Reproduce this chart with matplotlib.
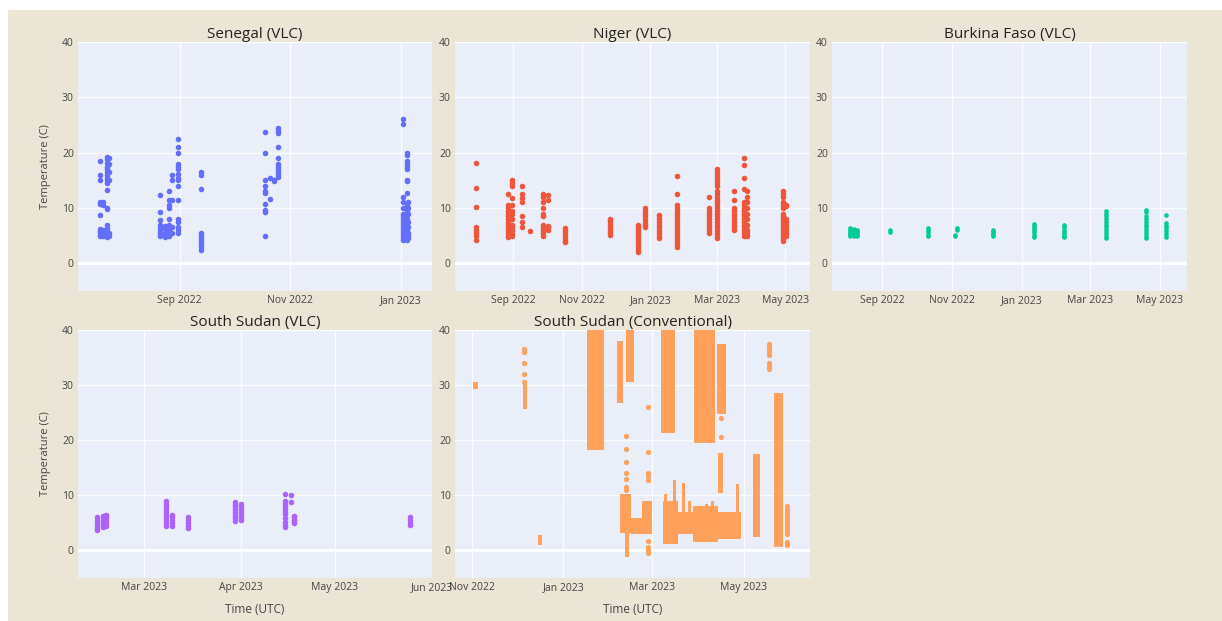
import matplotlib
matplotlib.use("Agg")
import matplotlib.pyplot as plt
import matplotlib.dates as mdates
from matplotlib.patches import Rectangle
import pandas as pd

# ---- data (date of a column of readings, temperatures in C) ----
senegal_days = ["2022-07-19", "2022-07-21", "2022-07-23", "2022-07-24", "2022-08-21",
                "2022-08-24", "2022-08-26", "2022-08-28", "2022-08-31", "2022-09-13",
                "2022-10-18", "2022-10-21", "2022-10-23", "2022-10-25", "2023-01-02",
                "2023-01-04", "2023-01-05"]
senegal_temps = [
    [18.5, 16, 15, 11, 10.8, 8.7, 6.2, 5.8, 5.5, 5.2, 5],
    [6, 5.5, 5, 11, 10.5],
    [19.2, 18.8, 18.2, 17.5, 17, 16.5, 16, 15.5, 15, 14.5, 13.2, 10, 9.8, 7, 6.3, 5.8, 5.3, 5, 4.8],
    [19, 18, 16.5, 15, 5.5, 5],
    [12.3, 9.2, 7.8, 7, 6.5, 6, 5.5, 5],
    [6.8, 6.2, 5.5, 5, 4.8],
    [13, 11.5, 10.5, 10, 8, 7, 6, 5.5, 5],
    [16, 15, 11.5, 6.5, 5.5],
    [22.5, 21, 20, 18, 17.5, 17, 16.2, 15.5, 15, 14, 11.5, 8, 7.5, 6.5, 6, 5.5],
    [16.5, 16, 13.5, 5.5, 5, 4.5, 4, 3.5, 3, 2.5],
    [23.7, 19.9, 15, 14, 13, 12.8, 10.8, 9.6, 9.2, 5],
    [15.4, 11.6],
    [15, 14.8],
    [24.4, 24, 23.5, 21, 19, 18, 17.5, 17, 16.5, 16, 15.6],
    [26, 25.2, 12, 11, 10, 9, 8.5, 8, 7.5, 7, 6.5, 6, 5.5, 5, 4.5, 4.2],
    [20, 19.5, 18.5, 18, 17.5, 17, 15, 14.8, 12.7, 10.5, 9.5, 8.8, 8, 7, 6.5, 6, 5.5, 5, 4.5, 4.2],
    [11, 10, 9, 7.5, 6.5, 5.5, 5, 4.5],
]

niger_days = ["2022-07-30", "2022-08-27", "2022-08-31", "2022-09-09", "2022-09-16",
              "2022-09-27", "2022-10-02", "2022-10-17", "2022-11-26", "2022-12-21",
              "2022-12-27", "2023-01-09", "2023-01-25", "2023-02-22", "2023-03-01",
              "2023-03-16", "2023-03-25", "2023-03-28", "2023-04-29", "2023-05-02"]
niger_temps = [
    [18.2, 13.6, 10.2, 6.5, 6, 5.5, 5, 4.3],
    [12.5, 10.5, 10, 9.5, 9, 8.5, 8, 7.5, 7, 6.5, 6, 5.5, 5, 4.8],
    [15, 14.5, 14, 11.8, 10.5, 9.5, 9, 8, 7, 6.5, 6, 5.5, 5],
    [14, 12.5, 11.8, 11, 8.5, 7.5, 6.5],
    [5.8],
    [12.5, 12, 11, 10, 9, 8.5, 7, 6.5, 6, 5.5, 5],
    [12.3, 11.5, 6.8, 6.5, 6],
    [6.3, 6, 5.5, 5, 4.5, 4, 3.8],
    [8, 7.8, 7.5, 7, 6.5, 6, 5.5, 5.2],
    [7, 6.5, 6, 5.5, 5, 4.5, 4, 3.5, 3, 2.5, 2],
    [10, 9.5, 9, 8.5, 8, 7.5, 7, 6.5],
    [8.8, 8.5, 8, 7.5, 7, 6.5, 6, 5.5, 5, 4.5],
    [15.8, 12.5, 10.5, 10, 9.5, 9, 8.5, 8, 7.5, 7, 6.5, 6, 5.5, 5, 4.5, 4, 3.5, 3],
    [12, 10, 9.5, 9, 8.5, 8, 7.5, 7, 6.5, 6, 5.5],
    [17, 16.5, 16, 15.5, 15, 14.5, 14, 13, 12.5, 12, 11.5, 11, 10.5, 10, 9.5, 9, 8.5,
     8, 7.5, 7, 6.5, 6, 5.5, 5, 4.5],
    [13, 11.5, 10, 9.5, 9, 8.5, 8, 7.5, 7, 6.5, 6],
    [19, 17.8, 15.5, 13.5, 11, 10.5, 10, 9.5, 9, 8.5, 8, 7.5, 7, 6.5, 6, 5.5, 5],
    [13, 12, 11, 10, 9, 8, 7, 6, 5.5, 5],
    [13, 12.5, 12, 11, 10.5, 10, 9, 8.5, 8, 7.5, 7, 6.5, 6, 5.5, 5, 4.5, 4],
    [10.5, 10.3, 8, 7.5, 7, 6.5, 6, 5.5, 5],
]

burkina_days = ["2022-08-04", "2022-08-07", "2022-08-10", "2022-09-08", "2022-10-11",
                "2022-11-03", "2022-11-05", "2022-12-07", "2023-01-11", "2023-02-07",
                "2023-03-15", "2023-04-19", "2023-05-07"]
burkina_temps = [
    [6.3, 6, 5.7, 5.4, 5.1, 4.9],
    [6.2, 5.9, 5.6, 5.3, 5],
    [6.1, 5.8, 5.5, 5.2, 4.9],
    [6, 5.7],
    [6.4, 6, 5.6, 5.2, 4.9],
    [5.2, 5],
    [6.4, 6.1],
    [6.1, 5.8, 5.5, 5.2, 4.9],
    [7.1, 6.8, 6.4, 6, 5.6, 5.2, 4.8],
    [6.9, 6.5, 6.1, 5.7, 5.3, 4.9, 4.7],
    [9.4, 9, 8.5, 8, 7.5, 7, 6.5, 6, 5.5, 5, 4.5],
    [9.7, 9.2, 8.5, 8, 7.5, 7, 6.5, 6, 5.5, 5, 4.6],
    [8.8, 7.2, 6.8, 6.3, 5.8, 5.3, 4.8],
]

ssudan_days = ["2023-02-14", "2023-02-16", "2023-02-17", "2023-03-08", "2023-03-10",
               "2023-03-15", "2023-03-30", "2023-04-01", "2023-04-15", "2023-04-17",
               "2023-04-18", "2023-05-25"]
ssudan_temps = [
    [6, 5.5, 5, 4.5, 4, 3.8],
    [6.2, 5.8, 5.4, 5, 4.6, 4.2],
    [6.5, 6.2, 5.8, 5.4, 5, 4.5],
    [9, 8.5, 8, 7.5, 7, 6.5, 6, 5.5, 5, 4.5],
    [6.5, 6, 5.5, 5, 4.5],
    [6, 5.5, 5, 4.5, 4],
    [8.7, 8.3, 7.8, 7.3, 6.8, 6.3, 5.8, 5.3],
    [8.5, 8, 7.5, 7, 6.5, 6, 5.5],
    [10.3, 9, 8.5, 8, 7.5, 7, 6.6, 5.8, 5.2, 4.6, 4.2],
    [10, 8.7],
    [6.2, 6, 5.6, 5.3, 5],
    [6, 5.5, 5, 4.6],
]

# South Sudan conventional: dense stretches of readings (start, end, low, high)
conv_start = ["2022-11-02", "2022-12-05", "2022-12-15", "2023-01-17", "2023-02-06",
              "2023-02-12", "2023-02-08", "2023-02-11", "2023-02-15", "2023-02-22",
              "2023-03-07", "2023-03-08", "2023-03-09", "2023-03-15", "2023-03-18",
              "2023-03-21", "2023-03-25", "2023-03-29", "2023-03-28", "2023-04-05",
              "2023-04-09", "2023-04-13", "2023-04-14", "2023-04-13", "2023-04-19",
              "2023-04-26", "2023-05-07", "2023-05-21"]
conv_end = ["2022-11-05", "2022-12-08", "2022-12-18", "2023-01-28", "2023-02-10",
            "2023-02-17", "2023-02-15", "2023-02-14", "2023-02-27", "2023-03-01",
            "2023-03-16", "2023-03-18", "2023-03-11", "2023-03-17", "2023-03-28",
            "2023-03-23", "2023-03-27", "2023-04-12", "2023-04-14", "2023-04-07",
            "2023-04-11", "2023-04-19", "2023-04-17", "2023-04-19", "2023-04-29",
            "2023-04-28", "2023-05-12", "2023-05-27"]
conv_low = [29.3, 25.6, 1.0, 18.2, 26.7, 30.5, 3.1, -1.2, 3.0, 3.0,
            21.3, 1.2, 1.2, 1.2, 3.0, 3.0, 3.0, 19.5, 1.5, 2.0,
            2.0, 24.7, 10.5, 2.0, 2.0, 2.0, 2.4, 0.6]
conv_high = [30.6, 30.2, 2.8, 42, 38, 42, 10.3, 3.1, 5.8, 9.0,
             42, 9.0, 10.2, 12.8, 7.0, 12.3, 9.0, 42, 8.0, 8.5,
             9.0, 37.5, 17.7, 7.0, 7.0, 12.0, 17.5, 28.5]
# isolated readings
conv_dot_days = ["2022-12-06", "2023-02-12", "2023-02-26", "2023-04-16", "2023-05-18",
                 "2023-05-30"]
conv_dot_temps = [
    [36.5, 36, 34, 32, 30.5],
    [20.7, 18.4, 16, 14, 13, 11.5, 10.9],
    [26, 17.8, 14, 13.5, 12.7, 1.8, 0.6, 0, -0.5],
    [20.5, 24],
    [37.5, 37, 36.5, 36, 35.5, 34, 33.5, 33],
    [8, 7.5, 7, 6.5, 6, 5.5, 5, 4.5, 4, 3.5, 3, 1.5, 1.2, 1],
]

titles = ["Senegal (VLC)", "Niger (VLC)", "Burkina Faso (VLC)",
          "South Sudan (VLC)", "South Sudan (Conventional)"]
colors = ["#636EFA", "#EF553B", "#00CC96", "#AB63FA", "#FFA15A"]
xlims = [("2022-07-07", "2023-01-18"), ("2022-07-11", "2023-05-23"),
         ("2022-07-19", "2023-05-25"), ("2023-02-08", "2023-06-01"),
         ("2022-10-21", "2023-06-14")]


def expand(days, temps):
    xs, ys = [], []
    for d, t in zip(days, temps):
        xs += [pd.Timestamp(d)] * len(t)
        ys += list(t)
    return xs, ys


W, H = 1222, 621
fig = plt.figure(figsize=(W / 100, H / 100), dpi=100, facecolor="white")
fig.patches.append(Rectangle((8 / W, 0), 1, (H - 10) / H, transform=fig.transFigure,
                             facecolor="#ebe5d5", edgecolor="none", zorder=-10))

# axes boxes in pixels: left, top, right, bottom
boxes = [(78, 42, 432, 291), (455, 42, 810, 291), (832, 42, 1187, 291),
         (78, 330, 432, 578), (455, 330, 810, 578)]
axes = []
for l, t, r, b in boxes:
    axes.append(fig.add_axes([l / W, 1 - b / H, (r - l) / W, (b - t) / H]))

series = [(senegal_days, senegal_temps), (niger_days, niger_temps),
          (burkina_days, burkina_temps), (ssudan_days, ssudan_temps)]

for i, ax in enumerate(axes):
    ax.set_facecolor("#e9eef8")
    for s in ax.spines.values():
        s.set_visible(False)
    ax.grid(color="white", lw=1.0, alpha=0.85)
    ax.set_axisbelow(True)
    ax.set_ylim(-5, 40)
    ax.set_yticks([0, 10, 20, 30, 40])
    ax.set_xlim(pd.Timestamp(xlims[i][0]), pd.Timestamp(xlims[i][1]))
    if i == 3:
        ax.xaxis.set_major_locator(mdates.MonthLocator())
    else:
        ax.xaxis.set_major_locator(mdates.MonthLocator(bymonth=(1, 3, 5, 7, 9, 11)))
    ax.xaxis.set_major_formatter(mdates.DateFormatter("%b %Y"))
    ax.tick_params(length=0, labelsize=7.5, labelcolor="#444444", pad=3)
    for lab in ax.get_xticklabels() + ax.get_yticklabels():
        lab.set_family("Open Sans")
    ax.axhline(0, color="white", lw=2, zorder=0.5)
    ax.set_title(titles[i], fontsize=11, family="Open Sans", color="#222222", pad=3)

    if i < 4:
        xs, ys = expand(*series[i])
        ax.scatter(xs, ys, s=11 if i == 2 else 16, color=colors[i], lw=0, zorder=3)
    else:
        starts = mdates.date2num(pd.to_datetime(conv_start))
        ends = mdates.date2num(pd.to_datetime(conv_end))
        lows = pd.Series(conv_low)
        highs = pd.Series(conv_high)
        ax.bar(starts, highs - lows, width=ends - starts, bottom=lows, align="edge",
               color=colors[i], lw=0, zorder=3)
        xs, ys = expand(conv_dot_days, conv_dot_temps)
        ax.scatter(xs, ys, s=14, color=colors[i], lw=0, zorder=3)

for ax in (axes[0], axes[3]):
    ax.set_ylabel("Temperature (C)", fontsize=8, family="Open Sans", color="#444444",
                  labelpad=8)
for ax in (axes[3], axes[4]):
    ax.set_xlabel("Time (UTC)", fontsize=8.5, family="Open Sans", color="#444444",
                  labelpad=7)

fig.savefig("out.png", dpi=100)
